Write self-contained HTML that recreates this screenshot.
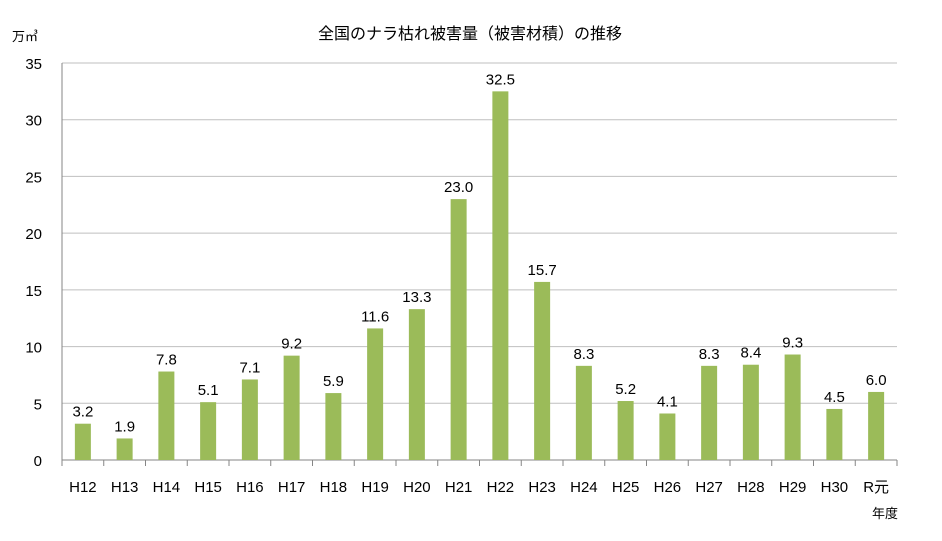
<!DOCTYPE html>
<html><head><meta charset="utf-8"><style>
body{margin:0;background:#fff;}
svg text{font-family:"Liberation Sans","Noto Sans CJK JP",sans-serif;fill:#000;}
</style></head><body>
<svg width="942" height="536" xmlns="http://www.w3.org/2000/svg">
<rect width="942" height="536" fill="#fff"/>
<text x="470" y="39" font-size="16" text-anchor="middle">全国のナラ枯れ被害量（被害材積）の推移</text>
<text x="12" y="41" font-size="13">万㎥</text>
<text x="885" y="518" font-size="13" text-anchor="middle">年度</text>
<g id="grid"></g><g id="bars"></g><g id="labels"></g>
</svg>
<script>
const categories=["H12","H13","H14","H15","H16","H17","H18","H19","H20","H21","H22","H23","H24","H25","H26","H27","H28","H29","H30","R元"];
const values=[3.2,1.9,7.8,5.1,7.1,9.2,5.9,11.6,13.3,23.0,32.5,15.7,8.3,5.2,4.1,8.3,8.4,9.3,4.5,6.0];
const yTicks=[0,5,10,15,20,25,30,35];
const NS="http://www.w3.org/2000/svg";
const L=62,R=897,T=63,B=460,yMax=35;
const y=v=>B-(v/yMax)*(B-T);
const step=(R-L)/categories.length;
const x=i=>L+step*(i+0.5);
const grid=document.getElementById('grid'),bars=document.getElementById('bars'),labels=document.getElementById('labels');
function mk(tag,attrs,parent){const e=document.createElementNS(NS,tag);for(const k in attrs)e.setAttribute(k,attrs[k]);parent.appendChild(e);return e;}
yTicks.forEach(t=>{
  const ln=mk('line',{x1:L,x2:R,y1:y(t),y2:y(t),stroke:t===0?'#868686':'#bfbfbf','stroke-width':1},grid);
  
  
  const tx=mk('text',{x:L-20,y:y(t)+6,'font-size':15,'text-anchor':'end'},grid);
  tx.textContent=t;
  
  
});
const ax=mk('line',{x1:L,x2:L,y1:T,y2:B,stroke:'#868686'},grid);


for(let i=0;i<=categories.length;i++){
  const tk=mk('line',{x1:L+step*i,x2:L+step*i,y1:B,y2:B+6,stroke:'#868686'},grid);
  
  
}
const bw=16;
values.forEach((v,i)=>{
  const r=mk('rect',{x:x(i)-bw/2,y:y(v),width:bw,height:B-y(v),fill:'#9bbb59'},bars);
  
  
  const vl=mk('text',{x:x(i),y:y(v)-7,'font-size':15,'text-anchor':'middle'},labels);
  vl.textContent=v.toFixed(1);
  
  
  const cl=mk('text',{x:x(i),y:492,'font-size':15,'text-anchor':'middle'},labels);
  cl.textContent=categories[i];
  
  
});
</script>
</body></html>
